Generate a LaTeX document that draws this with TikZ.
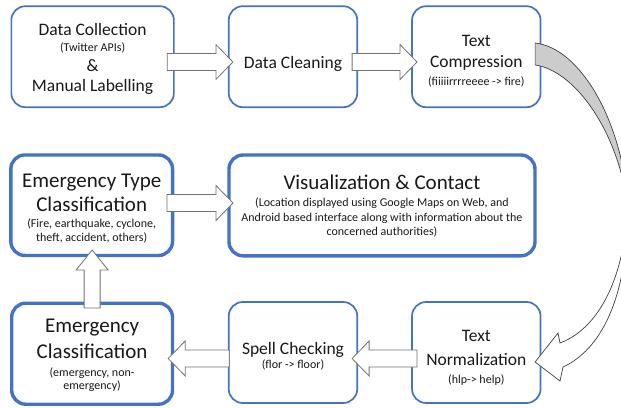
\documentclass[tikz,border=0pt]{standalone}
\usepackage{fontspec}
\setmainfont{Carlito}
\usetikzlibrary{calc}
\definecolor{boxblue}{HTML}{4472C4}
\newcommand\ftitle{\fontsize{17.5}{0}\selectfont}
\newcommand\fhead{\fontsize{21}{0}\selectfont}
\newcommand\fnote{\fontsize{12}{0}\selectfont}
\newcommand\boxfont{\lineskiplimit=-1000pt\relax\fnote}
\newcommand\harrow[3]{%
  \draw[blockarrow] let \p1=(#1), \p2=(#2) in
   ({\x1},{\y1+8.5pt}) -- ({\x2-(#3)},{\y1+8.5pt}) -- ({\x2-(#3)},{\y1+17.5pt}) -- ({\x2},{\y1})
   -- ({\x2-(#3)},{\y1-17.5pt}) -- ({\x2-(#3)},{\y1-8.5pt}) -- ({\x1},{\y1-8.5pt}) -- cycle;}
\newcommand\varrow[3]{%
  \draw[blockarrow] let \p1=(#1), \p2=(#2) in
   ({\x1+8pt},{\y1}) -- ({\x1+8pt},{\y2-(#3)}) -- ({\x1+16pt},{\y2-(#3)}) -- ({\x1},{\y2})
   -- ({\x1-16pt},{\y2-(#3)}) -- ({\x1-8pt},{\y2-(#3)}) -- ({\x1-8pt},{\y1}) -- cycle;}
\tikzset{
  box/.style={draw=boxblue, rounded corners=14pt, fill=white, align=center,
    inner sep=0pt, font=\boxfont, text=black!90},
  thinbox/.style={box, line width=1.7pt},
  thickbox/.style={box, line width=3.4pt},
  % last text baseline placed half of #1 below the box centre
  textdown/.style={text height=#1, text depth=0pt},
  blockarrow/.style={draw=black!55, fill=white, line width=0.8pt, line join=miter},
  ribbon/.style={draw=black!75, line width=0.7pt, line join=miter}
}
\begin{document}
\begin{tikzpicture}[x=1pt, y=-1pt]
\useasboundingbox (0,0) rectangle (621,407);

% top row
\node[thinbox, minimum width=162.5pt, minimum height=101pt, textdown=70pt] (dc) at (92.6,56.7)
  {{\ftitle Data Collection}\\[16pt]{\fnote (Twitter APIs)}\\[20.7pt]{\ftitle \&}\\[20pt]{\ftitle Manual Labelling}};
\node[thinbox, minimum width=128.5pt, minimum height=101pt, textdown=23pt] (dcl) at (293,56.7)
  {\ftitle Data Cleaning};
\node[thinbox, minimum width=128.5pt, minimum height=101pt, textdown=57.2pt] (tc) at (476.3,56.7)
  {{\ftitle Text}\\[20.6pt]{\ftitle Compression}\\[18pt]{\fnote (fiiiiirrrreeee -> fire)}};

% middle row
\node[thickbox, minimum width=161.7pt, minimum height=100.5pt, textdown=73pt] (et) at (91.7,205.2)
  {{\fhead Emergency Type}\\[24pt]{\fhead Classification}\\[16pt]{\fnote (Fire, earthquake, cyclone,}\\[14.7pt]{\fnote theft, accident, others)}};
\node[thickbox, minimum width=306pt, minimum height=100.8pt, textdown=60pt] (vc) at (382,205.4)
  {{\fhead Visualization \& Contact}\\[16.7pt]{\fnote (Location displayed using Google Maps on Web, and}\\[14.8pt]{\fnote Android based interface along with information about the}\\[14pt]{\fnote concerned authorities)}};

% bottom row
\node[thickbox, minimum width=160.8pt, minimum height=101pt, textdown=71.2pt] (ec) at (92.1,353.7)
  {{\fhead Emergency}\\[25.6pt]{\fhead Classification}\\[17.7pt]{\fnote (emergency, non-}\\[13.3pt]{\fnote emergency)}};
\node[thinbox, minimum width=128.5pt, minimum height=101pt, textdown=31pt] (sp) at (293,352.5)
  {{\ftitle Spell Checking}\\[14pt]{\fnote (flor -> floor)}};
\node[thinbox, minimum width=128.5pt, minimum height=101pt, textdown=61.6pt] (tn) at (476.3,352.5)
  {{\ftitle Text}\\[23.3pt]{\ftitle Normalization}\\[18.3pt]{\fnote (hlp-> help)}};

% block arrows
\harrow{$(dc.east)+(-7.5,5.3)$}{$(dcl.west)+(5,5.3)$}{17pt}
\harrow{$(dcl.east)+(-6,5.3)$}{$(tc.west)+(5.8,5.3)$}{17pt}
\harrow{$(et.east)+(-7.3,-2.2)$}{$(vc.west)+(5.7,-2.2)$}{17pt}
\varrow{$(ec.north)+(0,6.5)$}{$(et.south)+(0,-7.2)$}{20pt}
\harrow{$(sp.west)+(1.3,6)$}{$(ec.east)+(-6,6)$}{-17pt}
\harrow{$(tn.west)+(5.8,6)$}{$(sp.east)+(-6,6)$}{-17pt}

% curved ribbon arrow
\coordinate (r1) at ($(tc.east)+(-6.3,-13.7)$);
\coordinate (r2) at ($(tc.east)+(-6.3,8.3)$);
\coordinate (rt) at ($(tn.east)+(-6.3,9.5)$);
\coordinate (rx) at (628,205);
\draw[ribbon, fill=black!20] (r1) .. controls (580,48) and (622,120) .. (rx)
  .. controls (616,125) and (572,70) .. (r2) -- cycle;
\draw[ribbon, fill=white] (rx) .. controls (624,285) and (595,330) .. (560,343)
  -- (558,333) -- (rt) -- (560,381) -- (563,367)
  .. controls (600,350) and (628,300) .. (rx) -- cycle;
\end{tikzpicture}
\end{document}
